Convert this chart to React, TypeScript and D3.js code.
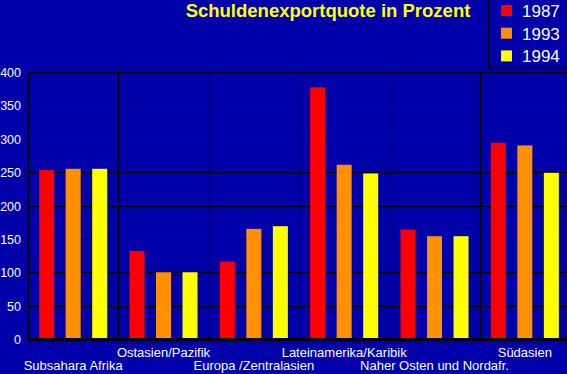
import { useEffect, useRef } from 'react';
import * as d3 from 'd3';

const regions = [
    'Subsahara Afrika',
    'Ostasien/Pazifik',
    'Europa /Zentralasien',
    'Lateinamerika/Karibik',
    'Naher Osten und Nordafr.',
    'Südasien',
];
const years = ['1987', '1993', '1994'];
const values1987 = [253, 132, 116, 377, 164, 294];
const values1993 = [255, 100, 165, 261, 154, 290];
const values1994 = [255, 100, 169, 248, 154, 249];
const yTicks = [0, 50, 100, 150, 200, 250, 300, 350, 400];
const yearColors = ['#ff0000', '#ff9000', '#ffff00'];

export default function App() {
    const svgRef = useRef<SVGSVGElement>(null);

    useEffect(() => {
        const series = [values1987, values1993, values1994];

        const width = 567;
        const height = 374;
        const margin = { top: 72, right: 0, bottom: 35, left: 28 };
        const plotRight = 570;
        const innerHeight = height - margin.top - margin.bottom;

        const svg = d3.select(svgRef.current);
        svg.selectAll('*').remove();
        svg.attr('width', width).attr('height', height);

        // Background
        svg.append('rect')
            .attr('width', width)
            .attr('height', height)
            .attr('fill', '#0000aa');

        const x = d3
            .scaleBand()
            .domain(regions)
            .range([margin.left, plotRight]);

        const xInner = d3
            .scaleBand()
            .domain(years)
            .range([0, x.bandwidth()])
            .paddingInner(0.434)
            .paddingOuter(0.42);

        const y = d3
            .scaleLinear()
            .domain([0, 400])
            .range([margin.top + innerHeight, margin.top]);

        // Horizontal grid lines
        svg.append('g')
            .selectAll('line')
            .data(yTicks)
            .enter()
            .append('line')
            .attr('x1', margin.left)
            .attr('x2', plotRight)
            .attr('y1', (d) => Math.round(y(d)) + 0.5)
            .attr('y2', (d) => Math.round(y(d)) + 0.5)
            .attr('stroke', '#000')
            .attr('stroke-width', 1.2);

        // Vertical category dividers
        svg.append('g')
            .selectAll('line')
            .data(regions)
            .enter()
            .append('line')
            .attr('x1', (d) => Math.round(x(d)!) + 0.5)
            .attr('x2', (d) => Math.round(x(d)!) + 0.5)
            .attr('y1', margin.top)
            .attr('y2', margin.top + innerHeight)
            .attr('stroke', '#000')
            .attr('stroke-width', 1.2);

        // Bars
        const groups = svg
            .append('g')
            .selectAll('g')
            .data(regions)
            .enter()
            .append('g')
            .attr('transform', (d) => `translate(${x(d)},0)`);

        groups
            .selectAll('rect')
            .data((_, i) => years.map((yr, j) => ({ yr, v: series[j][i], c: yearColors[j] })))
            .enter()
            .append('rect')
            .attr('x', (d) => xInner(d.yr)!)
            .attr('width', xInner.bandwidth())
            .attr('y', (d) => y(d.v))
            .attr('height', (d) => y(0) - y(d.v))
            .attr('fill', (d) => d.c);

        // Thick baseline
        svg.append('line')
            .attr('x1', margin.left)
            .attr('x2', plotRight)
            .attr('y1', y(0) + 0.5)
            .attr('y2', y(0) + 0.5)
            .attr('stroke', '#000')
            .attr('stroke-width', 3);

        // Y tick labels
        svg.append('g')
            .selectAll('text')
            .data(yTicks)
            .enter()
            .append('text')
            .attr('x', 21)
            .attr('y', (d) => y(d) + 5)
            .attr('text-anchor', 'end')
            .style('font-family', 'Liberation Sans, Arial, sans-serif')
            .style('font-size', '12.5px')
            .style('fill', '#fff')
            .text((d) => d);

        // X labels, staggered on two rows
        svg.append('g')
            .selectAll('text')
            .data(regions)
            .enter()
            .append('text')
            .attr('x', (d) => x(d)! + x.bandwidth() / 2)
            .attr('y', (_, i) => (i % 2 === 1 ? 357 : 370))
            .attr('text-anchor', 'middle')
            .style('font-family', 'Liberation Sans, Arial, sans-serif')
            .style('font-size', '13px')
            .style('fill', '#fff')
            .text((d) => d);

        // Title
        svg.append('text')
            .attr('x', 328)
            .attr('y', 17)
            .attr('text-anchor', 'middle')
            .style('font-family', 'Liberation Sans, Arial, sans-serif')
            .style('font-size', '18.5px')
            .style('font-weight', 'bold')
            .style('fill', '#ffff00')
            .text('Schuldenexportquote in Prozent');

        // Legend
        const legend = svg.append('g');
        legend.append('path')
            .attr('d', 'M488.5,0 V67.5 H567')
            .attr('fill', 'none')
            .attr('stroke', '#000')
            .attr('stroke-width', 1.5);

        const items = legend
            .selectAll('g.item')
            .data(years)
            .enter()
            .append('g')
            .attr('class', 'item')
            .attr('transform', (_, i) => `translate(501,${5 + i * 22.7})`);

        items.append('rect')
            .attr('width', 11)
            .attr('height', 11)
            .attr('fill', (_, i) => yearColors[i]);

        items.append('text')
            .attr('x', 21)
            .attr('y', 12)
            .style('font-family', 'Liberation Sans, Arial, sans-serif')
            .style('font-size', '17px')
            .style('fill', '#fff')
            .text((d) => d);
    }, []);

    return (
        <svg
            ref={svgRef}
            style={{ position: 'absolute', left: 0, top: 0, display: 'block' }}
        ></svg>
    );
}
